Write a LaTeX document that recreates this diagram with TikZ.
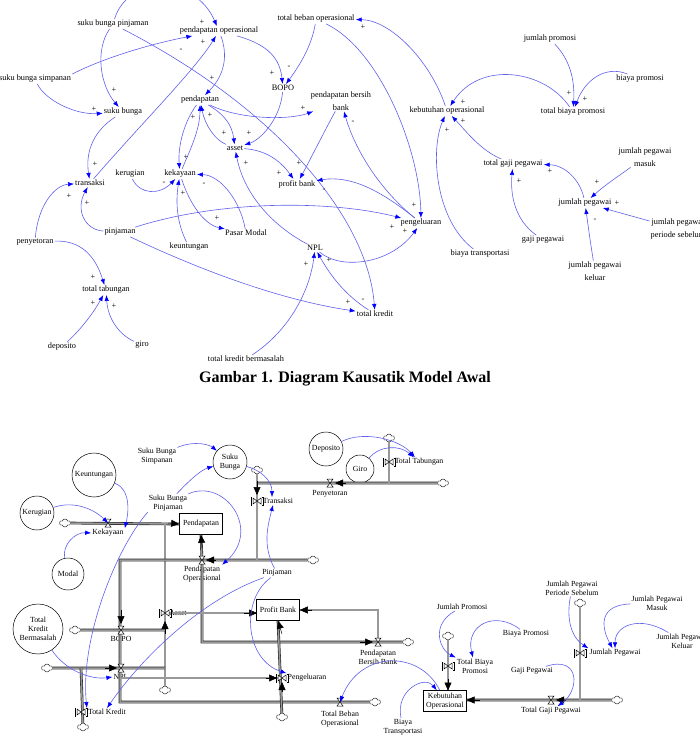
\documentclass[tikz,border=0pt]{standalone}
\usepackage{fontspec}
\setmainfont{Liberation Serif}
\usetikzlibrary{arrows.meta,shapes.symbols}
\definecolor{linkblue}{RGB}{95,95,235}
\tikzset{
  cld/.style={font=\fontsize{8.3}{12.5}\selectfont, inner sep=1pt, align=center},
  sfd/.style={font=\fontsize{7.8}{9}\selectfont, inner sep=1pt, align=center},
  sgn/.style={font=\fontsize{8.3}{9}\selectfont, inner sep=0pt},
  link/.style={draw=linkblue, line width=0.6pt, -{Latex[length=6pt,width=4.5pt,color=blue,fill=blue]}},
  aux/.style={sfd, draw, circle, inner sep=0pt, line width=0.5pt},
  stock/.style={sfd, draw, line width=0.6pt, minimum width=43, minimum height=21},
  pipe/.style={draw=black!85, double=black!40, double distance=1.5pt, line width=0.6pt},
  ptip/.style={line width=0.5pt, -{Triangle[length=8pt,width=7pt]}},
  cloudy/.style={cloud, cloud puffs=6, draw, minimum width=11, minimum height=8, inner sep=0pt, line width=0.4pt, fill=white},
  hvalve/.pic={\draw[line width=0.5pt, fill=white] (-3,-4) -- (3,-4) -- (-3,4) -- (3,4) -- cycle;},
  vvalve/.pic={\draw[line width=0.5pt, fill=white] (-4,-3) -- (4,3) -- (4,-3) -- (-4,3) -- cycle;
    \draw[line width=0.4pt] (-5,-4) -- (-6,-4) -- (-6,4) -- (-5,4) (5,-4) -- (6,-4) -- (6,4) -- (5,4);}
}
\begin{document}
\begin{tikzpicture}[x=1pt,y=-1pt]
    \useasboundingbox (0,0) rectangle (699,751);

    % Causal loop diagram
    \node[cld] (sbpin) at (113,24) {suku bunga pinjaman};
    \node[cld] (pops) at (219,31) {pendapatan operasional};
    \node[cld] (tbo) at (316,19) {total beban operasional};
    \node[cld] (sbsim) at (35,79) {suku bunga simpanan};
    \node[cld] (bopo) at (283,88) {BOPO};
    \node[cld] (pbb) at (341,101) {pendapatan bersih\\bank};
    \node[cld] (sb) at (123,112) {suku bunga};
    \node[cld] (pend) at (200,100) {pendapatan};
    \node[cld] (asset) at (235,148) {asset};
    \node[cld] (kops) at (447,111) {kebutuhan operasional};
    \node[cld] (jprom) at (550,39) {jumlah promosi};
    \node[cld] (bprom) at (640,79) {biaya promosi};
    \node[cld] (tbp) at (573,112) {total biaya promosi};
    \node[cld] (tgp) at (513,164) {total gaji pegawai};
    \node[cld] (jpm) at (645,157) {jumlah pegawai\\masuk};
    \node[cld] (jp) at (585,203) {jumlah pegawai};
    \node[cld] (jpps) at (678,229) {jumlah pegawai\\periode sebelum};
    \node[cld] (gp) at (543,240) {gaji pegawai};
    \node[cld] (btr) at (480,254) {biaya transportasi};
    \node[cld] (jpk) at (595,271) {jumlah pegawai\\keluar};
    \node[cld] (peng) at (421,223) {pengeluaran};
    \node[cld] (tk) at (375,314) {total kredit};
    \node[cld] (trans) at (90,183) {transaksi};
    \node[cld] (rugi) at (130,174) {kerugian};
    \node[cld] (kaya) at (180,174) {kekayaan};
    \node[cld] (pb) at (297,184) {profit bank};
    \node[cld] (pinj) at (120,232) {pinjaman};
    \node[cld] (pm) at (246,233) {Pasar Modal};
    \node[cld] (setor) at (35,242) {penyetoran};
    \node[cld] (untung) at (189,247) {keuntungan};
    \node[cld] (npl) at (315,248) {NPL};
    \node[cld] (ttab) at (106,290) {total tabungan};
    \node[cld] (depo) at (62,347) {deposito};
    \node[cld] (giro) at (142,345) {giro};
    \node[cld] (tkb) at (246,359) {total kredit bermasalah};
    \node[font=\bfseries\fontsize{16}{18}\selectfont, anchor=west, inner sep=0pt] (cap) at (199,379) {Gambar 1. Diagram Kausatik Model Awal};

    \draw[link] (sbpin) .. controls (128,-25) and (195,-25) .. (pops);
    \draw[link] (sbpin) .. controls (95,50) and (100,85) .. (sb);
    \draw[link] (sbpin) .. controls (280,110) and (368,220) .. (tk);
    \draw[link] (sbsim.north east) .. controls (110,55) and (160,42) .. (pops);
    \draw[link] (sbsim) .. controls (45,100) and (75,115) .. (sb);
    \draw[link] (sb) .. controls (95,130) and (85,150) .. (trans);
    \draw[link] (trans) .. controls (140,125) and (195,70) .. (pops);
    \draw[link] (pops) .. controls (270,45) and (280,60) .. (bopo);
    \draw[link] (tbo) .. controls (312,45) and (300,65) .. (bopo);
    \draw[link] (pops) .. controls (228,55) and (225,75) .. (pend);
    \draw[link] (bopo) .. controls (280,120) and (260,140) .. (asset);
    \draw[link] (pend) .. controls (225,115) and (232,125) .. (asset);
    \draw[link] (asset) .. controls (215,140) and (205,125) .. (pend);
    \draw[link] (pend) .. controls (240,120) and (290,120) .. (pbb);
    \draw[link] (pend) .. controls (182,125) and (178,150) .. (kaya);
    \draw[link] (kaya) .. controls (190,150) and (200,130) .. (pend);
    \draw[link] (asset) .. controls (265,150) and (280,160) .. (pb);
    \draw[link] (pbb) .. controls (325,130) and (310,160) .. (pb);
    \draw[link] (peng) .. controls (380,190) and (350,175) .. (pb);
    \draw[link] (peng) .. controls (380,190) and (355,150) .. (pbb);
    \draw[link] (rugi) .. controls (140,195) and (160,195) .. (kaya);
    \draw[link] (pm) .. controls (240,200) and (220,175) .. (kaya);
    \draw[link] (kaya) .. controls (190,205) and (205,225) .. (pm);
    \draw[link] (untung) .. controls (178,225) and (175,205) .. (kaya);
    \draw[link] (pinj) .. controls (85,230) and (75,210) .. (trans);
    \draw[link] (setor) .. controls (38,205) and (55,185) .. (trans);
    \draw[link] (setor) .. controls (80,240) and (95,255) .. (ttab);
    \draw[link] (depo) .. controls (85,325) and (95,310) .. (ttab);
    \draw[link] (giro) .. controls (120,335) and (108,320) .. (ttab);
    \draw[link] (pinj) .. controls (220,200) and (330,200) .. (peng);
    \draw[link] (pinj) .. controls (200,270) and (280,300) .. (tk);
    \draw[link] (npl) .. controls (340,270) and (390,265) .. (peng);
    \draw[link] (npl) .. controls (280,230) and (245,200) .. (asset);
    \draw[link] (tkb) .. controls (290,330) and (310,290) .. (npl);
    \draw[link] (tk) .. controls (345,295) and (330,275) .. (npl);
    \draw[link] (tbo) .. controls (380,50) and (420,150) .. (peng);
    \draw[link] (kops) .. controls (430,60) and (390,20) .. (tbo);
    \draw[link] (btr) .. controls (435,220) and (430,150) .. (kops);
    \draw[link] (tgp) .. controls (480,150) and (465,130) .. (kops);
    \draw[link] (tbp) .. controls (545,70) and (480,60) .. (kops);
    \draw[link] (jprom) .. controls (570,60) and (575,80) .. (tbp);
    \draw[link] (bprom) .. controls (605,65) and (585,80) .. (tbp);
    \draw[link] (gp) .. controls (515,220) and (510,195) .. (tgp);
    \draw[link] (jp) .. controls (580,180) and (565,165) .. (tgp);
    \draw[link] (jpm) .. controls (620,175) and (605,185) .. (jp);
    \draw[link] (jpps) -- (jp);
    \draw[link] (jpk) .. controls (590,240) and (588,225) .. (jp);

    % polarity signs
    \foreach \x/\y/\s [count=\i] in {202/22/+, 114/90/+, 363/300/-, 181/50/-, 94/109/+, 95/164/+,
        203/42/+, 272/73/+, 289/67/-, 212/78/+, 249/133/+, 224/133/+, 210/115/+, 303/108/+,
        193/117/+, 186/157/+, 279/173/+, 299/163/+, 324/190/-, 353/122/-, 164/183/-, 204/184/-,
        217/218/+, 183/193/+, 87/203/+, 69/196/+, 93/277/+, 93/303/+, 114/306/+, 392/227/+,
        348/302/+, 405/231/+, 246/163/+, 306/264/+, 329/260/+, 414/205/+, 363/27/+, 447/130/+,
        463/121/+, 463/102/+, 569/93/+, 585/99/+, 519/181/+, 550/171/+, 597/182/+, 617/203/+, 595/220/-}
        \node[sgn] (sg\i) at (\x,\y) {\s};

    % Stock and flow diagram
    \node[aux, minimum size=44] (kuntung) at (94,475) {Keuntungan};
    \node[aux, minimum size=34] (krugi) at (37,513) {Kerugian};
    \node[aux, minimum size=32] (modal) at (68,574) {Modal};
    \node[aux, minimum size=50] (tkbm) at (38,629) {Total\\Kredit\\Bermasalah};
    \node[aux, minimum size=34] (sbunga) at (230,462) {Suku\\Bunga};
    \node[aux, minimum size=34] (depos) at (326,449) {Deposito};
    \node[aux, minimum size=28] (giros) at (360,469) {Giro};

    \node[stock] (spend) at (201,524) {Pendapatan};
    \node[stock] (sprofit) at (278,610) {Profit Bank};
    \node[stock] (skops) at (445,701) {Kebutuhan\\Operasional};

    \node[sfd] (ssbsim) at (157,456) {Suku Bunga\\Simpanan};
    \node[sfd] (ssbpin) at (168,503) {Suku Bunga\\Pinjaman};
    \node[sfd] (skaya) at (108,533) {Kekayaan};
    \node[sfd] (spops) at (202,574) {Pendapatan\\Operasional};
    \node[sfd] (spinj) at (277,573) {Pinjaman};
    \node[sfd] (strans) at (278,501) {Transaksi};
    \node[sfd] (ssetor) at (330,494) {Penyetoran};
    \node[sfd] (sttab) at (419,462) {Total Tabungan};
    \node[sfd] (sasset) at (178,613) {Asset};
    \node[sfd] (sbopo) at (121,639) {BOPO};
    \node[sfd] (snpl) at (121,677) {NPL};
    \node[sfd] (stk) at (107,712) {Total Kredit};
    \node[sfd] (speng) at (307,678) {Pengeluaran};
    \node[sfd] (stbo) at (340,719) {Total Beban\\Operasional};
    \node[sfd] (spbb) at (378,657) {Pendapatan\\Bersih Bank};
    \node[sfd] (sjprom) at (462,607) {Jumlah Promosi};
    \node[sfd] (sbprom) at (526,634) {Biaya Promosi};
    \node[sfd] (stbp) at (475,666) {Total Biaya\\Promosi};
    \node[sfd] (sbtr) at (403,727) {Biaya\\Transportasi};
    \node[sfd] (sgp) at (532,671) {Gaji Pegawai};
    \node[sfd] (stgp) at (551,711) {Total Gaji Pegawai};
    \node[sfd] (sjpps) at (572,588) {Jumlah Pegawai\\Periode Sebelum};
    \node[sfd] (sjpm) at (657,603) {Jumlah Pegawai\\Masuk};
    \node[sfd] (sjpk) at (682,641) {Jumlah Pegawai\\Keluar};
    \node[sfd] (sjp) at (615,653) {Jumlah Pegawai};

    % clouds
    \node[cloudy] (c1) at (65,523) {};
    \node[cloudy] (c2) at (165,690) {};
    \node[cloudy] (c3) at (313,560) {};
    \node[cloudy] (c4) at (257,470) {};
    \node[cloudy] (c5) at (389,438) {};
    \node[cloudy] (c6) at (443,483) {};
    \node[cloudy] (c7) at (75,630) {};
    \node[cloudy] (c8) at (47,668) {};
    \node[cloudy] (c9) at (83,727) {};
    \node[cloudy] (c10) at (282,717) {};
    \node[cloudy] (c11) at (375,702) {};
    \node[cloudy] (c12) at (408,642) {};
    \node[cloudy] (c13) at (448,636) {};
    \node[cloudy] (c14) at (617,700) {};
    \node[cloudy] (c15) at (580,603) {};

    % junctions and valves
    \coordinate (j1) at (165,523);
    \coordinate (j2) at (120,560);
    \coordinate (j3) at (202,642);
    \coordinate (j4) at (378,610);
    \coordinate (j5) at (257,483);
    \coordinate (j6) at (257,560);
    \coordinate (j7) at (389,483);
    \coordinate (j8) at (165,630);
    \coordinate (j9) at (165,668);
    \coordinate (j10) at (81,668);
    \coordinate (j11) at (120,702);
    \coordinate (j12) at (580,700);
    \coordinate (vkaya) at (108,523);
    \coordinate (vpops) at (202,560);
    \coordinate (vtrans) at (257,501);
    \coordinate (vsetor) at (330,483);
    \coordinate (vttab) at (389,462);
    \coordinate (vasset) at (165,613);
    \coordinate (vbopo) at (121,630);
    \coordinate (vnpl) at (121,668);
    \coordinate (vtk) at (81,712);
    \coordinate (vpeng) at (282,678);
    \coordinate (vtbo) at (340,702);
    \coordinate (vpbb) at (378,642);
    \coordinate (vtbp) at (448,666);
    \coordinate (vtgp) at (551,700);
    \coordinate (vjp) at (580,653);

    % pipes
    \draw[pipe] (c1) -- (spend.west);
    \draw[pipe] (j1) -- (c2);
    \draw[pipe] (c3) -- (j2) -- (j11) -- (c11);
    \draw[pipe] (vpops) -- (spend.south);
    \draw[pipe] (vpops) -- (j3) -- (c12);
    \draw[pipe] (vpbb) -- (j4) -- (sprofit.east);
    \draw[pipe] (c4) -- (j6);
    \draw[pipe] (j5) -- (c6);
    \draw[pipe] (c5) -- (j7);
    \draw[pipe] (vasset) -- (vasset -| sprofit.west);
    \draw[pipe] (sprofit.south) -- (c10);
    \draw[pipe] (vnpl) ++(0,10) -- (vpeng);
    \draw[pipe] (c7) -- (j8);
    \draw[pipe] (c8) -- (j9);
    \draw[pipe] (j10) -- (c9);
    \draw[pipe] (c13) -- (skops.north -| c13);
    \draw[pipe] (c14) -- (skops.east |- c14);
    \draw[pipe] (c15) -- (j12);

    % pipe arrowheads
    \draw[ptip] (168,523) -- (spend.west);
    \draw[ptip] (202,548) -- (spend.south);
    \draw[ptip] (216,560) -- (206,560);
    \draw[ptip] (257,481) -- (257,495);
    \draw[ptip] (346,483) -- (335,483);
    \draw[ptip] (121,610) -- (121,624);
    \draw[ptip] (105,668) -- (117,668);
    \draw[ptip] (165,634) -- (165,621);
    \draw[ptip] (244,613) -- (257,613);
    \draw[ptip] (312,610) -- (sprofit.east);
    \draw[ptip] (282,634) -- (sprofit.south);
    \draw[ptip] (266,678) -- (277,678);
    \draw[ptip] (282,692) -- (282,682);
    \draw[ptip] (360,642) -- (373,642);
    \draw[ptip] (448,679) -- (448,690.5);
    \draw[ptip] (480,700) -- (466.5,700);
    \draw[ptip] (566,700) -- (556,700);

    % valves
    \foreach \v in {vkaya,vpops,vsetor,vbopo,vnpl,vtbo,vpbb,vtgp}
        \pic at (\v) {hvalve};
    \foreach \v in {vtrans,vttab,vasset,vtk,vpeng,vtbp,vjp}
        \pic at (\v) {vvalve};

    % information links
    \draw[link] (ssbsim) .. controls (195,440) and (210,445) .. (sbunga);
    \draw[link] (ssbpin) .. controls (185,485) and (200,470) .. (sbunga);
    \draw[link] (sbunga) .. controls (260,470) and (272,480) .. ([xshift=-6]strans.north);
    \draw[link] (kuntung) .. controls (132,490) and (128,515) .. (skaya.north east);
    \draw[link] (krugi) .. controls (75,500) and (95,510) .. (vkaya);
    \draw[link] (modal) .. controls (62,545) and (75,532) .. (skaya.west);
    \draw[link] (ssbpin.north east) .. controls (225,478) and (262,530) .. (spops.north east);
    \draw[link] (spinj) .. controls (262,545) and (268,525) .. ([xshift=-5]strans.south);
    \draw[link] (ssbpin.south west) .. controls (115,550) and (80,640) .. (stk.north west);
    \draw[link] (spinj) .. controls (200,600) and (140,660) .. (stk.north);
    \draw[link] (tkbm) .. controls (65,670) and (90,680) .. (snpl.west);
    \draw[link] (spinj) .. controls (240,600) and (245,660) .. (speng.north west);
    \draw[link] (skops) .. controls (420,650) and (360,650) .. (vtbo);
    \draw[link] (sbtr) .. controls (395,690) and (425,675) .. (skops);
    \draw[link] (sjprom) .. controls (430,625) and (440,650) .. (stbp.north west);
    \draw[link] (sbprom) .. controls (495,610) and (465,625) .. (stbp);
    \draw[link] (sgp) .. controls (580,655) and (580,690) .. (stgp);
    \draw[link] (sjpps) .. controls (565,625) and (575,640) .. (sjp.north west);
    \draw[link] (sjpm) .. controls (600,605) and (600,625) .. (sjp);
    \draw[link] (sjpk) .. controls (640,615) and (615,625) .. (sjp);
    \draw[link] (depos) .. controls (365,430) and (400,440) .. (sttab);
    \draw[link] (giros) .. controls (380,445) and (400,445) .. (sttab);
\end{tikzpicture}
\end{document}
